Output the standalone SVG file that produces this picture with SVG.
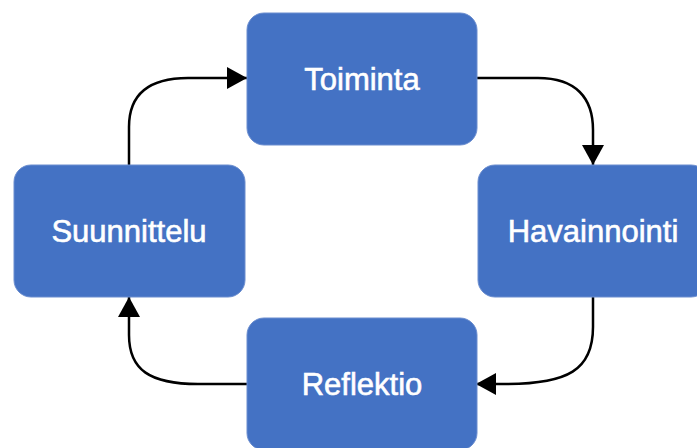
<svg xmlns="http://www.w3.org/2000/svg" width="697" height="448" viewBox="0 0 697 448">
  <style>
    .box { fill: #4472C4; stroke: #6a8dcf; stroke-width: 1; }
    .label { fill: #ffffff; stroke: #ffffff; stroke-width: 0.6; font-family: "Liberation Sans", Arial, sans-serif; font-size: 31px; text-anchor: middle; }
    .link { fill: none; stroke: #000000; stroke-width: 2.5; marker-end: url(#arrow); }
  </style>
  <defs>
    <marker id="arrow" markerUnits="userSpaceOnUse" viewBox="0 0 20 22" refX="20" refY="11" markerWidth="20" markerHeight="22" orient="auto">
      <path d="M0,0 L20,11 L0,22 z" fill="#000000"/>
    </marker>
  </defs>
  <rect width="697" height="448" fill="#ffffff"/>

  <g id="connectors">
    <!-- Suunnittelu -> Toiminta -->
    <path class="link" d="M129,165 L129,127 C129,95 148,78 188,78 L247,78"/>
    <!-- Toiminta -> Havainnointi -->
    <path class="link" d="M477,78 L538,78 C576,78 593,98 593,130 L593,165"/>
    <!-- Havainnointi -> Reflektio -->
    <path class="link" d="M593,297 L593,327 C593,370 568,384 505,384 L476,384"/>
    <!-- Reflektio -> Suunnittelu -->
    <path class="link" d="M247,384 L198,384 C150,384 129,370 129,335 L129,297"/>
  </g>

  <g id="toiminta">
    <rect class="box" x="247" y="13" width="230" height="132" rx="17"/>
    <text class="label" x="362" y="90">Toiminta</text>
  </g>
  <g id="havainnointi">
    <rect class="box" x="478" y="165" width="230" height="132" rx="17"/>
    <text class="label" x="593" y="242">Havainnointi</text>
  </g>
  <g id="suunnittelu">
    <rect class="box" x="14" y="165" width="231" height="132" rx="17"/>
    <text class="label" x="129" y="242">Suunnittelu</text>
  </g>
  <g id="reflektio">
    <rect class="box" x="247" y="318" width="230" height="132" rx="17"/>
    <text class="label" x="362" y="395">Reflektio</text>
  </g>
</svg>
